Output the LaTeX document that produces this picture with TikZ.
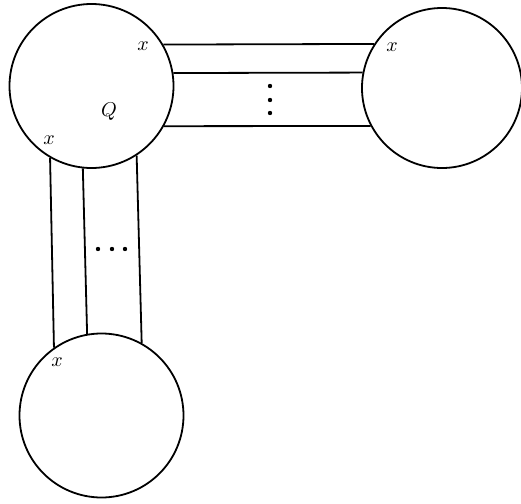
\documentclass[tikz,border=0pt]{standalone}
\usepackage{amsmath}
\usepackage{amssymb}

\tikzset{
  ball/.style={draw,circle,line width=0.9pt,inner sep=0pt},
  lab/.style={inner sep=1pt}
}

\begin{document}
\begin{tikzpicture}[x=0.5pt,y=-0.5pt,line width=0.9pt]
  \useasboundingbox (0,0) rectangle (521,504);
  % the three blobs
  \node[ball,minimum size=82pt] (q) at (91.5,86) {};
  \node[ball,minimum size=80pt] (r) at (442,88) {};
  \node[ball,minimum size=82pt] (s) at (101.5,415.5) {};
  \node (qlab) at (109,112) {$Q$};
  % horizontal strands
  \draw (q.30) -- (r.147.5);
  \draw (q.9.1) -- (r.169.2);
  \draw (q.-29.2) -- (r.208.4);
  \foreach \y in {86,100,113} \fill (270,\y) circle (2.2);
  % vertical strands
  \draw (q.240) -- (s.125);
  \draw (q.264) -- (s.100);
  \draw (q.303) -- (s.61);
  \foreach \x in {98,112,125} \fill (\x,249) circle (2.2);
  % labels x
  \node[lab] (x1) at (143,46) {$x$};
  \node[lab] (x2) at (392,47) {$x$};
  \node[lab] (x3) at (49,140) {$x$};
  \node[lab] (x4) at (57,362) {$x$};
\end{tikzpicture}
\end{document}
